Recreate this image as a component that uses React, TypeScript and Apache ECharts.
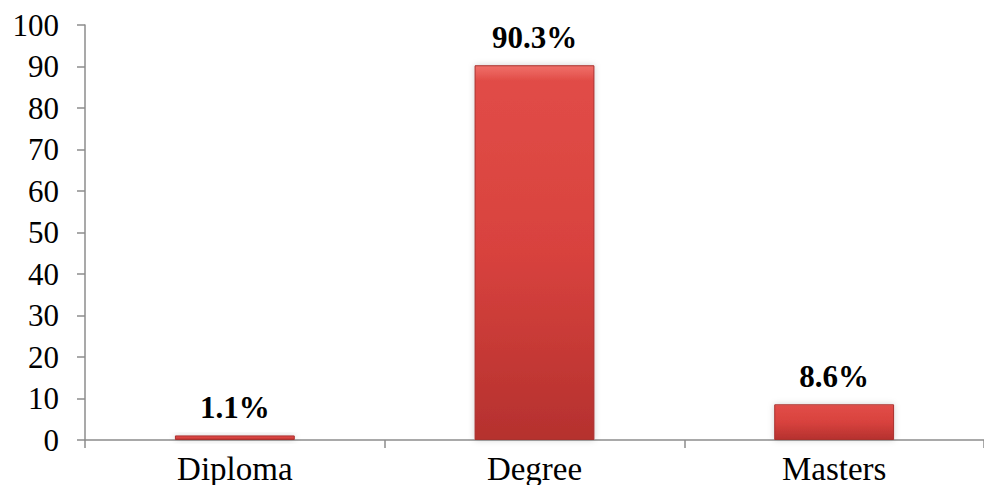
import React, { useEffect, useRef } from "react";
import * as echarts from "echarts";

const categories = ["Diploma", "Degree", "Masters"];
const percentages = [1.1, 90.3, 8.6];
const yTicks = { min: 0, max: 100, interval: 10 };

const FONT = "'Liberation Serif', 'Times New Roman', serif";

export default function App() {
  const ref = useRef<HTMLDivElement>(null);

  useEffect(() => {
    if (!ref.current) return;
    const chart = echarts.init(ref.current, null, { renderer: "svg" });

    const barFill = new echarts.graphic.LinearGradient(0, 0, 0, 1, [
      { offset: 0, color: "#f0706a" },
      { offset: 0.04, color: "#e14c47" },
      { offset: 0.5, color: "#d8423e" },
      { offset: 1, color: "#b5312e" },
    ]);

    chart.setOption({
      animation: false,
      backgroundColor: "#ffffff",
      grid: { left: 77, top: 17, bottom: 45, width: 915, containLabel: false },
      xAxis: {
        type: "category",
        data: categories,
        axisLine: { lineStyle: { color: "#8c8c8c", width: 1.5 } },
        axisTick: { show: true, length: 8, lineStyle: { color: "#8c8c8c", width: 1.5 } },
        axisLabel: { color: "#000", fontFamily: FONT, fontSize: 33, margin: 12 },
        splitLine: { show: false },
      },
      yAxis: {
        type: "value",
        min: yTicks.min,
        max: yTicks.max,
        interval: yTicks.interval,
        axisLine: { show: true, lineStyle: { color: "#8c8c8c", width: 1.5 } },
        axisTick: { show: true, length: 8, lineStyle: { color: "#8c8c8c", width: 1.5 } },
        axisLabel: { color: "#000", fontFamily: FONT, fontSize: 31, margin: 26 },
        splitLine: { show: false },
      },
      series: [
        {
          type: "bar",
          data: percentages,
          barWidth: "40%",
          itemStyle: {
            color: barFill,
            borderColor: "#a8302d",
            borderWidth: 1,
            shadowColor: "rgba(0,0,0,0.18)",
            shadowBlur: 6,
          },
          label: {
            show: true,
            position: "top",
            distance: 12,
            formatter: (p: any) => `${p.value}%`,
            color: "#000",
            fontFamily: FONT,
            fontWeight: "bold",
            fontSize: 31,
          },
        },
      ],
    });

    return () => chart.dispose();
  }, []);

  return <div ref={ref} style={{ width: 976, height: 477 }} />;
}
